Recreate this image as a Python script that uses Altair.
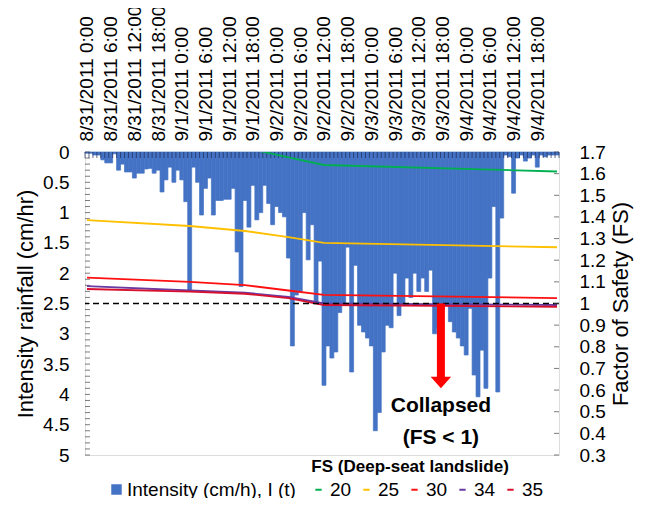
import altair as alt
import pandas as pd

FONT = "Liberation Sans"

# ---------------- data ----------------
hours = list(range(120))
intensity = [
    0.02, 0.02, 0.05, 0.05, 0.13, 0.18, 0.18, 0.03, 0.3, 0.2,
    0.33, 0.33, 0.43, 0.35, 0.35, 0.28, 0.27, 0.35, 0.3, 0.66,
    0.46, 0.25, 0.5, 0.3, 0.46, 0.82, 2.3, 0.25, 0.5, 1.04,
    0.6, 0.43, 1.04, 0.8, 0.8, 0.78, 0.78, 0.6, 1.65, 2.22,
    0.8, 1.24, 0.55, 1.12, 1.0, 0.55, 0.85, 1.2, 0.9, 1.0,
    1.07, 1.75, 3.2, 2.36, 2.3, 1.0, 1.78, 1.2, 2.5, 1.8,
    3.85, 3.2, 3.4, 3.3, 2.65, 2.5, 1.57, 3.63, 1.87, 2.86,
    2.97, 3.07, 3.2, 4.6, 4.3, 3.3, 2.86, 2.9, 2.0, 2.7,
    2.5, 2.08, 2.4, 2.0, 2.3, 2.08, 2.3, 1.95, 3.0, 2.9,
    2.6, 2.52, 2.8, 2.97, 3.07, 3.2, 3.35, 2.58, 3.68, 4.04,
    3.27, 3.9, 2.08, 0.9, 3.96, 1.09, 0.05, 0.08, 0.68, 0.1,
    0.05, 0.15, 0.1, 0.05, 0.25, 0.05, 0.08, 0.05, 0.05, 0.05,
]

fs_hours = [0, 26, 40, 51, 60, 119]
series_names = ["20", "25", "30", "34", "35"]
fs20 = [1.78, 1.745, 1.72, 1.675, 1.64, 1.61]
fs25 = [1.385, 1.358, 1.335, 1.307, 1.28, 1.26]
fs30 = [1.12, 1.10, 1.085, 1.06, 1.04, 1.025]
fs34 = [1.08, 1.06, 1.05, 1.03, 1.0, 0.993]
fs35 = [1.067, 1.055, 1.045, 1.025, 0.993, 0.985]
series_colors = ["#00b050", "#ffc000", "#ff1010", "#6a3aa0", "#d8102e"]

label_hours = [0, 6, 12, 18, 24, 30, 36, 42, 48, 54, 60, 66, 72, 78, 84, 90, 96, 102, 108, 114]
time_labels = [
    "8/31/2011 0:00", "8/31/2011 6:00", "8/31/2011 12:00", "8/31/2011 18:00",
    "9/1/2011 0:00", "9/1/2011 6:00", "9/1/2011 12:00", "9/1/2011 18:00",
    "9/2/2011 0:00", "9/2/2011 6:00", "9/2/2011 12:00", "9/2/2011 18:00",
    "9/3/2011 0:00", "9/3/2011 6:00", "9/3/2011 12:00", "9/3/2011 18:00",
    "9/4/2011 0:00", "9/4/2011 6:00", "9/4/2011 12:00", "9/4/2011 18:00",
]

left_values = [0, 0.5, 1, 1.5, 2, 2.5, 3, 3.5, 4, 4.5, 5]
right_values = [0.3, 0.4, 0.5, 0.6, 0.7, 0.8, 0.9, 1.0, 1.1, 1.2, 1.3, 1.4, 1.5, 1.6, 1.7]
left_minor = [round(i * 0.1, 1) for i in range(51)]

collapse_hour = 89.6
arrow_top, arrow_bottom, arrow_head = 1.0, 0.656, 0.635
notes_text = ["Collapsed", "(FS < 1)"]
notes_fs = [0.526, 0.379]
subtitle_text = "FS (Deep-seat landslide)"
subtitle_hour, subtitle_fs = 81.8, 0.245

# ---------------- tables ----------------
bars_df = pd.DataFrame({"hour": hours, "intensity": intensity, "base": 0.0,
                        "series": "Intensity (cm/h), I (t)"})
rows = []
for name, vals in zip(series_names, [fs20, fs25, fs30, fs34, fs35]):
    for h, v in zip(fs_hours, vals):
        rows.append({"hour": h, "fs": v, "series": name})
lines_df = pd.DataFrame(rows)
top_ticks_df = pd.DataFrame({"hx": [h - 0.5 for h in range(121)], "iv": 0.0})
left_ticks_df = pd.DataFrame({"hx": -0.5, "iv": left_minor})
right_ticks_df = pd.DataFrame({"hx": 119.5, "fs": right_values})
arrow_df = pd.DataFrame({"hour": [collapse_hour], "top": [arrow_top],
                         "bot": [arrow_bottom], "head": [arrow_head]})
notes_df = pd.DataFrame({"hour": collapse_hour, "fs": notes_fs, "text": notes_text})
sub_df = pd.DataFrame({"hour": [subtitle_hour], "fs": [subtitle_fs], "text": [subtitle_text]})
dash_df = pd.DataFrame({"fs": [1.0]})

# ---------------- scales & axes ----------------
label_expr = "[" + ",".join("'%s'" % s for s in time_labels) + "][round(datum.value/6)]"
xs = alt.Scale(domain=[-0.5, 119.5], nice=False, zero=False)
x_axis = alt.Axis(orient="top", values=label_hours, labelExpr=label_expr, labelAngle=270,
                  labelFontSize=19, labelPadding=11, ticks=False, tickSize=0, domain=False,
                  grid=False, title=None, labelOverlap=False, labelFlush=False,
                  labelColor="#000", labelFont=FONT)
ys_left = alt.Scale(domain=[0, 5], reverse=True, nice=False, zero=True)
y_left_axis = alt.Axis(orient="left", values=left_values, format="~g", labelFontSize=19,
                       labelPadding=16, ticks=False, tickSize=0, domain=False, grid=False,
                       title="Intensity rainfall (cm/hr)", titleFontSize=22,
                       titleFontWeight="normal", titlePadding=5, labelColor="#000",
                       titleColor="#000", labelFont=FONT, titleFont=FONT)
ys_right = alt.Scale(domain=[0.3, 1.7], nice=False, zero=False)
y_right_axis = alt.Axis(orient="right", values=right_values, format="~g", labelFontSize=19,
                        labelPadding=20, ticks=False, tickSize=0, domain=False, grid=False,
                        title="Factor of Safety (FS)", titleFontSize=22, titleAngle=270,
                        titleBaseline="top", titleFontWeight="normal", titlePadding=5,
                        labelColor="#000", titleColor="#000", labelFont=FONT, titleFont=FONT)

X = lambda f: alt.X(f, type="quantitative", scale=xs, axis=x_axis)
YL = lambda f: alt.Y(f, type="quantitative", scale=ys_left, axis=y_left_axis)
YR = lambda f: alt.Y(f, type="quantitative", scale=ys_right, axis=y_right_axis)

# ---------------- left group ----------------
bars = alt.Chart(bars_df).transform_calculate(
    x0="datum.hour - 0.5", x1="datum.hour + 0.5"
).mark_bar(stroke="#4472c4", strokeWidth=0.7).encode(
    x=X("x0"), x2="x1:Q", y=YL("intensity"), y2="base:Q",
    fill=alt.Fill("series:N", scale=alt.Scale(range=["#4472c4"]),
                  legend=alt.Legend(orient="none", legendX=22, legendY=328, title=None,
                                    symbolType="square", symbolSize=110, symbolStrokeWidth=0,
                                    labelFontSize=19, labelFont=FONT, labelOffset=1,
                                    labelLimit=400, labelColor="#000")),
)
top_ticks = alt.Chart(top_ticks_df).mark_tick(orient="vertical", size=6, thickness=1,
                                              yOffset=3, color="#1c2b55").encode(
    x=X("hx"), y=YL("iv"))
left_ticks = alt.Chart(left_ticks_df).mark_tick(orient="horizontal", size=5, thickness=1,
                                                xOffset=2.5, color="#444").encode(
    x=X("hx"), y=YL("iv"))
left = alt.layer(bars, top_ticks, left_ticks)

# ---------------- right group ----------------
lines = alt.Chart(lines_df).mark_line(strokeWidth=1.8, clip=True).encode(
    x=X("hour"), y=YR("fs"), order="hour:Q",
    stroke=alt.Stroke("series:N", scale=alt.Scale(domain=series_names, range=series_colors),
                      legend=alt.Legend(orient="none", legendX=224, legendY=328, title=None,
                                        direction="horizontal", columns=5, symbolType="stroke",
                                        symbolSize=40, symbolStrokeWidth=2, labelFontSize=19,
                                        labelFont=FONT, labelOffset=2, columnPadding=5,
                                        labelColor="#000")),
)
dash = alt.Chart(dash_df).mark_rule(color="#000", strokeWidth=1.6, strokeDash=[6, 4]).encode(
    y=YR("fs"))
shaft = alt.Chart(arrow_df).mark_rule(color="#ff0000", strokeWidth=8).encode(
    x=X("hour"), y=YR("top"), y2="bot:Q")
head = alt.Chart(arrow_df).mark_point(shape="M-1,-0.55L1,-0.55L0,0.55Z", filled=True,
                                      size=420, color="#ff0000", opacity=1,
                                      strokeWidth=0).encode(x=X("hour"), y=YR("head"))
right_ticks = alt.Chart(right_ticks_df).mark_tick(orient="horizontal", size=5, thickness=1,
                                                  xOffset=-2.5, color="#444").encode(
    x=X("hx"), y=YR("fs"))
notes = alt.Chart(notes_df).mark_text(fontSize=21, fontWeight="bold", font=FONT,
                                      color="#000").encode(x=X("hour"), y=YR("fs"), text="text:N")
sub = alt.Chart(sub_df).mark_text(fontSize=17, fontWeight="bold", font=FONT,
                                  color="#000").encode(x=X("hour"), y=YR("fs"), text="text:N")
right = alt.layer(lines, dash, shaft, head, right_ticks, notes, sub)

chart = alt.layer(left, right).resolve_scale(
    y="independent"
).properties(
    width=474, height=303,
    autosize=alt.AutoSizeParams(type="none"),
    padding={"left": 77, "top": 144, "right": 83, "bottom": 43},
    background="white",
).configure_view(stroke="#333", strokeWidth=1).configure(font=FONT)

chart.save("out.html", embed_options={"renderer": "svg", "actions": False})
